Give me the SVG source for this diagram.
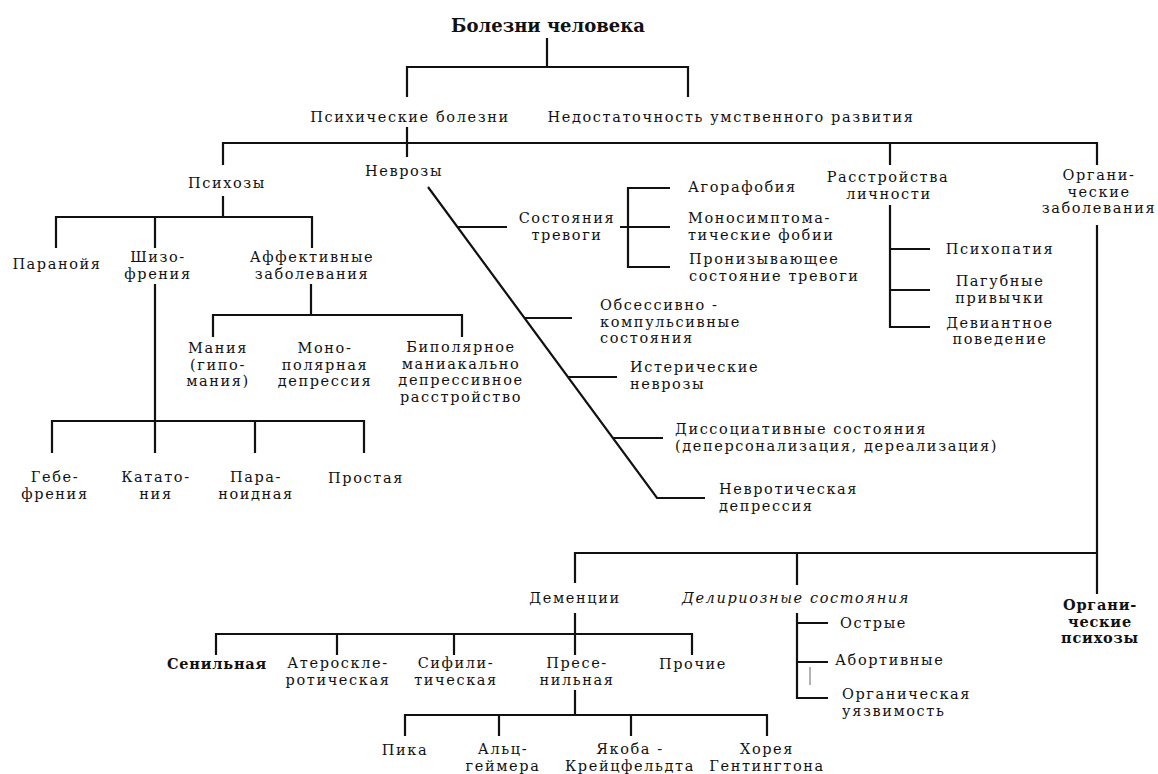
<svg xmlns="http://www.w3.org/2000/svg" width="1158" height="774" viewBox="0 0 1158 774">
<style>
text { font-family: "DejaVu Serif", "Liberation Serif", serif; font-size: 14.5px; letter-spacing: 1.6px; fill: #111; }
.m { text-anchor: middle; }
.b { font-weight: bold; letter-spacing: 0.8px; }
.i { font-style: italic; }
.ttl { font-size: 18px; font-weight: bold; letter-spacing: 0; }
.ln { fill: none; stroke: #111; stroke-width: 2.2; }
.thin { fill: none; stroke: #666; stroke-width: 1; }
</style>
<rect width="1158" height="774" fill="#fff"/>
<g id="connectors">
<path class="ln" d="M547,38 V67 M407,97 V67 H688 V97"/>
<path class="ln" d="M407,127 V157 M223,165 V143 H1097 V165 M890,143 V165"/>
<path class="ln" d="M223,196 V217 M56,248 V217 H312 V248 M155,217 V248"/>
<path class="ln" d="M155,284 V453 M52,453 V421 H364 V453 M255,421 V453"/>
<path class="ln" d="M311,284 V315 M213,337 V315 H462 V337"/>
<path class="ln" d="M428,187 L657,498 H705 M457,227 H507 M524,318 H572 M568,377 H617 M613,438 H663"/>
<path class="ln" d="M620,227 H670 M670,188 H628 V267 H670"/>
<path class="ln" d="M890,205 V327 H930 M890,249 H930 M890,290 H930"/>
<path class="ln" d="M1097,225 V594 M575,583 V553 H1097 M797,553 V585"/>
<path class="ln" d="M575,613 V655 M216,655 V634 H692 V655 M337,634 V655 M454,634 V655"/>
<path class="ln" d="M575,690 V715 M405,736 V715 H767 V736 M499,715 V736 M631,715 V736"/>
<path class="ln" d="M797,613 V698 H828 M797,623 H828 M797,662 H828"/>
<path class="thin" d="M810,667 V685"/>
</g>
<g id="n-root"><text class="m ttl" x="548" y="32">Болезни человека</text></g>
<g id="n-psych"><text class="m" x="410" y="122">Психические болезни</text></g>
<g id="n-retard"><text class="m" x="731" y="122">Недостаточность умственного развития</text></g>
<g id="n-psychoses"><text class="m" x="227" y="188">Психозы</text></g>
<g id="n-neuroses"><text class="m" x="404" y="176">Неврозы</text></g>
<g id="n-personality"><text class="m" x="888" y="182">Расстройства</text><text class="m" x="889" y="198.5">личности</text></g>
<g id="n-organic"><text class="m" x="1099" y="180">Органи-</text><text class="m" x="1099" y="196.5">ческие</text><text class="m" x="1099" y="213">заболевания</text></g>
<g id="n-paranoia"><text class="m" x="57" y="269">Паранойя</text></g>
<g id="n-schizo"><text class="m" x="158" y="262">Шизо-</text><text class="m" x="158" y="278.5">френия</text></g>
<g id="n-affective"><text class="m" x="312" y="262">Аффективные</text><text class="m" x="312" y="278.5">заболевания</text></g>
<g id="n-mania"><text class="m" x="218" y="353">Мания</text><text class="m" x="218" y="369.5">(гипо-</text><text class="m" x="218" y="386">мания)</text></g>
<g id="n-mono"><text class="m" x="325" y="353">Моно-</text><text class="m" x="325" y="369.5">полярная</text><text class="m" x="325" y="386">депрессия</text></g>
<g id="n-bipolar"><text class="m" x="461" y="352">Биполярное</text><text class="m" x="461" y="368.5">маниакально</text><text class="m" x="461" y="385">депрессивное</text><text class="m" x="461" y="401.5">расстройство</text></g>
<g id="n-hebe"><text class="m" x="55" y="482">Гебе-</text><text class="m" x="55" y="498.5">френия</text></g>
<g id="n-catato"><text class="m" x="156" y="482">Катато-</text><text class="m" x="156" y="498.5">ния</text></g>
<g id="n-paranoid"><text class="m" x="256" y="482">Пара-</text><text class="m" x="256" y="498.5">ноидная</text></g>
<g id="n-simple"><text class="m" x="366" y="483">Простая</text></g>
<g id="n-anxiety"><text class="m" x="567" y="223">Состояния</text><text class="m" x="567" y="239.5">тревоги</text></g>
<g id="n-agora"><text x="688" y="192">Агорафобия</text></g>
<g id="n-monosym"><text x="688" y="223">Моносимптома-</text><text x="688" y="239.5">тические фобии</text></g>
<g id="n-pervasive"><text x="689" y="264">Пронизывающее</text><text x="689" y="280.5">состояние тревоги</text></g>
<g id="n-ocd"><text x="600" y="310">Обсессивно -</text><text x="600" y="326.5">компульсивные</text><text x="600" y="343">состояния</text></g>
<g id="n-hysteric"><text x="630" y="372">Истерические</text><text x="630" y="388.5">неврозы</text></g>
<g id="n-dissoc"><text x="675" y="434">Диссоциативные состояния</text><text x="675" y="450.5">(деперсонализация, дереализация)</text></g>
<g id="n-neurdep"><text x="719" y="494">Невротическая</text><text x="719" y="510.5">депрессия</text></g>
<g id="n-psychopathy"><text class="m" x="1000" y="254">Психопатия</text></g>
<g id="n-habits"><text class="m" x="1000" y="286">Пагубные</text><text class="m" x="1000" y="302.5">привычки</text></g>
<g id="n-deviant"><text class="m" x="1000" y="327.5">Девиантное</text><text class="m" x="1000" y="344">поведение</text></g>
<g id="n-dementia"><text class="m" x="575" y="603">Деменции</text></g>
<g id="n-delirium"><text class="m i" x="796" y="603">Делириозные состояния</text></g>
<g id="n-orgpsych"><text class="m b" x="1100" y="610">Органи-</text><text class="m b" x="1100" y="626.5">ческие</text><text class="m b" x="1100" y="643">психозы</text></g>
<g id="n-senile"><text class="m b" x="217" y="669">Сенильная</text></g>
<g id="n-athero"><text class="m" x="338" y="668">Атероскле-</text><text class="m" x="338" y="684.5">ротическая</text></g>
<g id="n-syph"><text class="m" x="456" y="668">Сифили-</text><text class="m" x="456" y="684.5">тическая</text></g>
<g id="n-presenile"><text class="m" x="577" y="668">Пресе-</text><text class="m" x="577" y="684.5">нильная</text></g>
<g id="n-other"><text class="m" x="693" y="669">Прочие</text></g>
<g id="n-acute"><text x="840" y="628">Острые</text></g>
<g id="n-abortive"><text x="835" y="665">Абортивные</text></g>
<g id="n-vulner"><text x="842" y="699">Органическая</text><text x="842" y="715.5">уязвимость</text></g>
<g id="n-pick"><text class="m" x="405" y="755">Пика</text></g>
<g id="n-alz"><text class="m" x="503" y="754">Альц-</text><text class="m" x="503" y="770.5">геймера</text></g>
<g id="n-jakob"><text class="m" x="630" y="754">Якоба -</text><text class="m" x="630" y="770.5">Крейцфельдта</text></g>
<g id="n-huntington"><text class="m" x="767" y="754">Хорея</text><text class="m" x="767" y="770.5">Гентингтона</text></g>
</svg>
